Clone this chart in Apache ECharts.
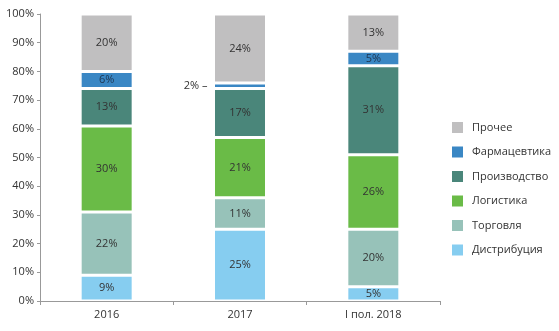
<!DOCTYPE html>
<html><head><meta charset="utf-8">
<script src="https://cdn.jsdelivr.net/npm/echarts@6/dist/echarts.min.js"></script>
<style>html,body{margin:0;padding:0;background:#fff}#c{width:559px;height:331px}</style>
</head><body><div id="c"></div>
<script>
const categories = ['2016', '2017', 'I пол. 2018'];
const seriesNames = ['Дистрибуция', 'Торговля', 'Логистика', 'Производство', 'Фармацевтика', 'Прочее'];
const distribution = [9, 25, 5];
const trade = [22, 11, 20];
const logistics = [30, 21, 26];
const production = [13, 17, 31];
const pharma = [6, 2, 5];
const other = [20, 24, 13];
const yTicks = [0, 10, 20, 30, 40, 50, 60, 70, 80, 90, 100];

const colors = ['#86cdf0', '#97c2b9', '#6abb47', '#4a867a', '#3a87c4', '#c0bfc0'];
const values = [distribution, trade, logistics, production, pharma, other];
const FONT = '"Open Sans", sans-serif';

const series = seriesNames.map((name, i) => ({
  name, type: 'bar', stack: 'total', barWidth: 53,
  itemStyle: { color: colors[i], borderColor: '#fff', borderWidth: 1.5 },
  label: { show: true, position: 'inside', color: i === 4 ? '#1e3550' : '#333', fontFamily: FONT, fontSize: 11, formatter: '{c}%' },
  data: values[i].map((v, j) => {
    if (i === 4 && v < 3) {
      return { value: v, label: { position: 'left', color: '#333', formatter: '{c}% –', distance: 6 } };
    }
    return v;
  })
}));

const chart = echarts.init(document.getElementById('c'));
chart.setOption({
  animation: false,
  grid: { left: 40, top: 14, width: 400, height: 287 },
  legend: {
    orient: 'vertical', left: 450, top: 120, padding: 0, itemWidth: 13, itemHeight: 13, itemGap: 9.5,
    data: seriesNames.slice().reverse(),
    textStyle: { fontFamily: FONT, fontSize: 11, color: '#333', padding: [0, 0, 0, 3] },
    icon: 'rect'
  },
  xAxis: {
    type: 'category', data: categories,
    axisLine: { lineStyle: { color: '#999' } },
    axisTick: { show: true, length: 4, lineStyle: { color: '#999' } },
    axisLabel: { fontFamily: FONT, fontSize: 11, color: '#333', margin: 8 }
  },
  yAxis: {
    type: 'value', min: 0, max: 100, interval: 10,
    axisLine: { show: true, lineStyle: { color: '#999' } },
    axisTick: { show: true, length: 3, lineStyle: { color: '#999' } },
    splitLine: { show: false },
    axisLabel: { fontFamily: FONT, fontSize: 11, color: '#333', margin: 6, formatter: v => yTicks.includes(v) ? v + '%' : '' }
  },
  series
});
</script></body></html>
